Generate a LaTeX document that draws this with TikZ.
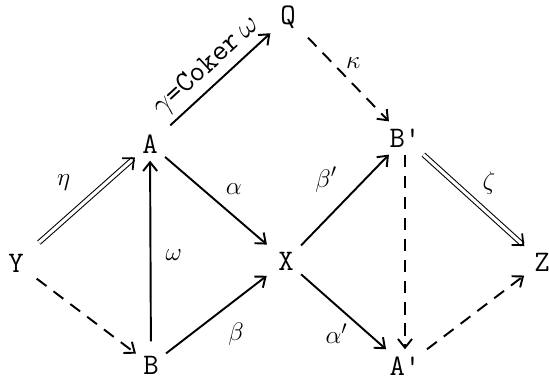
\documentclass[tikz,border=0pt]{standalone}
\usepackage{fontspec}
\usetikzlibrary{arrows.meta}
\begin{document}
\begin{tikzpicture}[x=0.02cm,y=-0.02cm,
  obj/.style={inner sep=4pt,font=\ttfamily\fontsize{17}{19}\selectfont},
  lab/.style={inner sep=2pt,font=\ttfamily\fontsize{15}{17}\selectfont},
  arr/.style={line width=1.1pt,-{Straight Barb[length=5pt,width=8pt,line width=1.1pt]}},
  darr/.style={arr,dash pattern=on 7pt off 5pt},
  dbl/.style={line width=0.6pt,double,double distance=1.8pt,-{Straight Barb[length=5pt,width=9pt,line width=1pt]}}]
\useasboundingbox (0,0) rectangle (549,381);
\node[obj] (Q) at (288,17) {Q};
\node[obj] (A) at (150,144) {A};
\node[obj] (Y) at (16,263) {Y};
\node[obj] (B) at (151,365) {B};
\node[obj] (X) at (286,261) {X};
\node[obj] (Bp) at (405,138) {B'};
\node[obj] (Ap) at (405,366) {A'};
\node[obj] (Z) at (542,262) {Z};
\draw[dbl,shorten <=6pt] (Y) -- (A) node[lab,midway,above left=5pt] {$\eta$};
\draw[darr,shorten <=4pt] (Y) -- (B);
\draw[arr,shorten <=4pt] (B) -- (A) node[lab,midway,right=6pt] {$\omega$};
\draw[arr,shorten >=3pt] (A) -- (X) node[lab,midway,above right=2pt] {$\alpha$};
\draw[arr,shorten >=3pt] (B) -- (X) node[lab,midway,below right=3pt] {$\beta$};
\draw[arr,shorten <=4pt,shorten >=2pt] (A) -- (Q) node[lab,pos=0.5,sloped,above=1pt,font=\ttfamily\fontsize{17}{19}\selectfont] {$\gamma$=Coker\,$\omega$};
\draw[darr,shorten <=4pt] (Q) -- (Bp) node[lab,pos=0.45,above right=0pt] {$\kappa$};
\draw[arr] (X) -- (Bp) node[lab,midway,above left=2pt] {$\beta'$};
\draw[arr] (X) -- (Ap) node[lab,pos=0.6,below left=0pt] {$\alpha'$};
\draw[darr] (Bp) -- (Ap);
\draw[dbl,shorten >=2pt] (Bp) -- (Z) node[lab,midway,above right=2pt] {$\zeta$};
\draw[darr,shorten >=2pt] (Ap) -- (Z);
\end{tikzpicture}
\end{document}
